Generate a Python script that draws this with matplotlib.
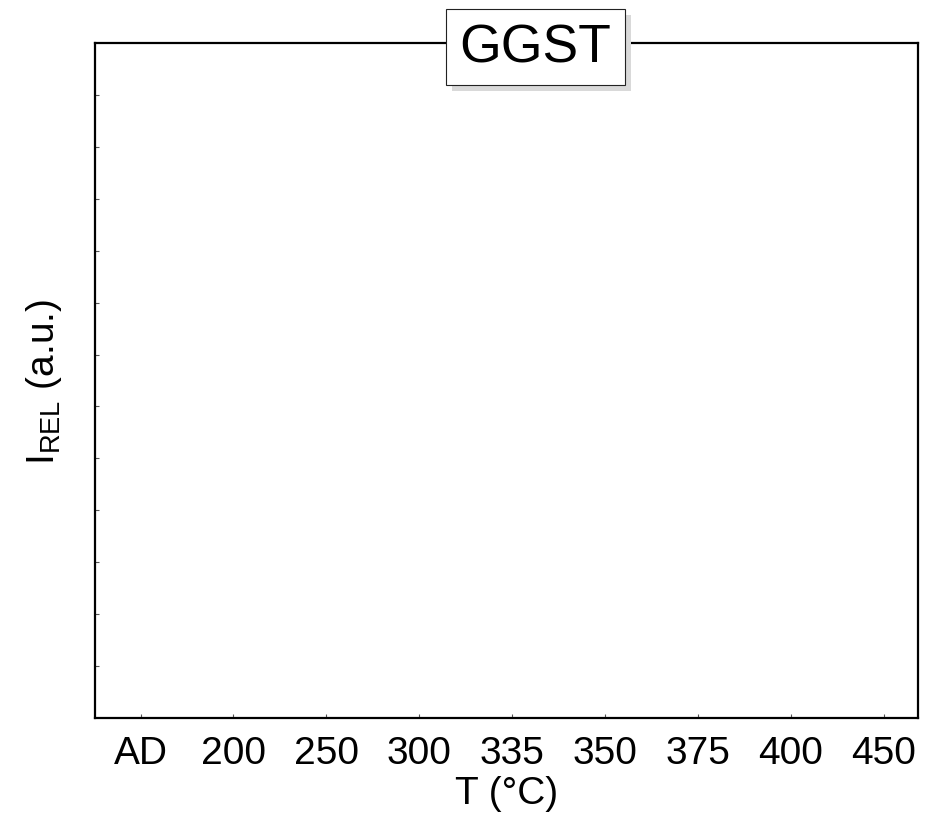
import matplotlib
matplotlib.use("Agg")
import matplotlib.pyplot as plt
import matplotlib.transforms as mtransforms
from matplotlib.patches import Rectangle

plt.rcParams['font.family'] = ['Liberation Sans', 'DejaVu Sans']
plt.rcParams['mathtext.fontset'] = 'custom'
plt.rcParams['mathtext.rm'] = 'Liberation Sans'
plt.rcParams['mathtext.it'] = 'Liberation Sans'

# categories on the x axis (no data series drawn in the reference)
temps = ["AD", "200", "250", "300", "335", "350", "375", "400", "450"]
title = "GGST"

fig = plt.figure(figsize=(9.35, 8.29), dpi=100)
ax = fig.add_axes([0.1016, 0.1327, 0.8802, 0.8142])

ax.set_xlim(-0.49, 8.37)
ax.set_ylim(0, 13)
ax.set_xticks(range(len(temps)))
ax.set_xticklabels(temps, fontsize=28)
ax.set_yticks(range(1, 13))
ax.set_yticklabels([])
ax.tick_params(direction='in', length=3, width=0.8, color='#555555', pad=12)
ax.tick_params(axis='x', pad=12)
for s in ax.spines.values():
    s.set_linewidth(1.6)

ax.set_xlabel("T (°C)", fontsize=28, labelpad=3)
ax.set_ylabel(r"I$_{\mathrm{REL}}$ (a.u.)", fontsize=28, labelpad=10)

# boxed title with drop shadow
t = ax.text(0.535, 0.994, title, transform=ax.transAxes, fontsize=38.5, ha='center', va='center',
            color='black', bbox=dict(boxstyle='square,pad=0.25', fc='white', ec='#222222', lw=0.8),
            clip_on=False, zorder=6)
fig.canvas.draw()
bb = t.get_bbox_patch().get_window_extent()
shadow = Rectangle((bb.x0 + 6, bb.y0 - 6), bb.width, bb.height,
                   transform=mtransforms.IdentityTransform(),
                   fc='#d9d9d9', ec='none', zorder=5, clip_on=False)
ax.add_artist(shadow)

fig.savefig("out.png", dpi=100)
